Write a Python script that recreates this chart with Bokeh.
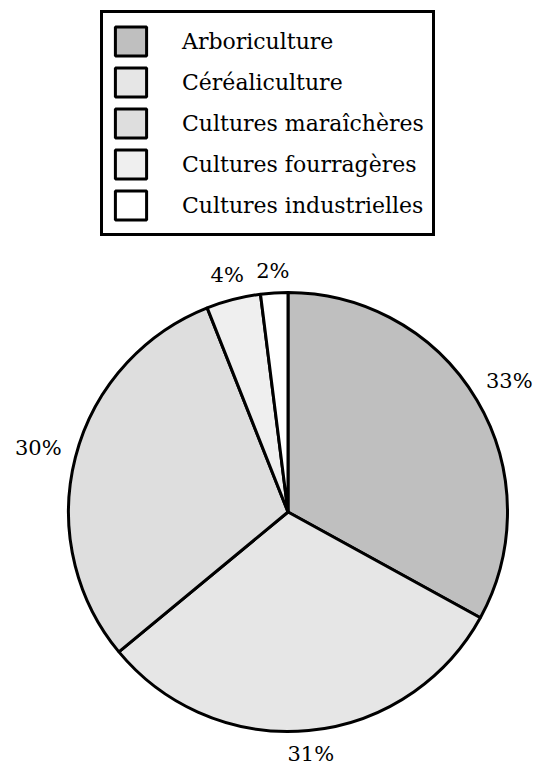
import numpy as np
from bokeh.plotting import figure
from bokeh.models import ColumnDataSource, Range1d, Legend, LegendItem
from bokeh.core.properties import value
from bokeh.embed import file_html
from bokeh.resources import INLINE

categories = ["Arboriculture", "Céréaliculture", "Cultures maraîchères",
              "Cultures fourragères", "Cultures industrielles"]
shares = [33, 31, 30, 4, 2]
labels = ["33%", "31%", "30%", "4%", "2%"]
colors = ["#bfbfbf", "#e6e6e6", "#dedede", "#efefef", "#ffffff"]

W, H = 540, 767
cx, cy, R = 287.5, H - 511.5, 219.5
FONT = "DejaVu Serif"
LABEL_FS = 21

frac = np.array(shares, dtype=float) / sum(shares)
cum = np.concatenate([[0.0], np.cumsum(frac)])
start = np.pi / 2 - 2 * np.pi * cum[:-1]
end = np.pi / 2 - 2 * np.pi * cum[1:]
mid = (start + end) / 2

# label placement: just outside the rim, pushed out by half the text extent
hw = np.array([0.5 * LABEL_FS * (0.636 * (len(s) - 1) + 0.95) for s in labels])
hh = 7
ext = np.abs(np.cos(mid)) * hw + np.abs(np.sin(mid)) * hh
d = R + 14 + ext
lx = cx + d * np.cos(mid)
ly = cy + d * np.sin(mid)

src = ColumnDataSource(dict(cat=categories, start=start, end=end, color=colors))
lsrc = ColumnDataSource(dict(x=lx, y=ly, text=labels))

p = figure(width=W, height=H, x_range=Range1d(0, W), y_range=Range1d(0, H),
           output_backend="svg", toolbar_location=None, min_border=0,
           x_axis_type=None, y_axis_type=None, outline_line_color=None)
p.grid.visible = False

r = p.wedge(x=cx, y=cy, radius=R, start_angle="start", end_angle="end",
            direction="clock", fill_color="color", line_color="black",
            line_width=3, source=src)

p.text(x="x", y="y", text="text", source=lsrc, text_align="center",
       text_baseline="middle", text_font=value(FONT),
       text_font_size=f"{LABEL_FS}px", text_color="black")

items = [LegendItem(label=c, renderers=[r], index=i) for i, c in enumerate(categories)]
legend = Legend(items=items, location=(100, H - 236), margin=0, padding=8,
                spacing=1, glyph_width=39, glyph_height=36, label_height=40,
                label_standoff=32, label_text_font=FONT,
                label_text_font_size="22px", label_text_color="black",
                border_line_color="black", border_line_width=3,
                border_line_alpha=1.0,
                background_fill_color="white", background_fill_alpha=1.0)
p.add_layout(legend)

open("out.html", "w").write(file_html(p, INLINE))
